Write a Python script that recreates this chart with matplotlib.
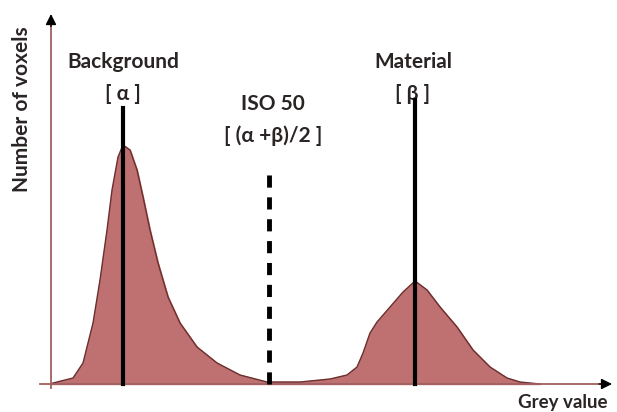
import matplotlib.pyplot as plt

# histogram outline (grey value, number of voxels)
grey = [0, 1, 11, 16, 21, 24.5, 28, 30.5, 33.5, 36, 39.5, 43, 46, 49.5,
        53.5, 58.5, 64.5, 73, 83, 94.5, 108, 124.5, 139.5, 148, 153, 156,
        159.5, 163, 169.5, 176, 182, 188, 194.5, 203, 211, 219.5, 228,
        234.5, 244.5]
voxels = [0, 4, 24, 84, 244, 416, 616, 776, 908, 956, 936, 856, 748, 616,
          484, 348, 244, 148, 84, 36, 8, 8, 20, 36, 68, 124,
          204, 248, 308, 368, 412, 376, 308, 228, 136, 68, 24,
          8, 0]

alpha = 36
beta = 182
iso50 = (alpha + beta) / 2

fig = plt.figure(figsize=(6.17, 4.12), dpi=100)
ax = fig.add_axes([0, 0, 1, 1])
ax.set_xlim(-25.5, 283)
ax.set_ylim(-112, 1536)
ax.axis("off")

ax.fill_between(grey, voxels, color="#bf7070", zorder=2)
ax.plot(grey, voxels, color="#6b2f2f", lw=1.0, zorder=3)

# axes: brownish lines with black arrow heads
ax.plot([-5.5, 276], [0, 0], color="#a06060", lw=1.3, zorder=4)
ax.plot([0, 0], [-16, 1440], color="#a06060", lw=1.3, zorder=4)
ax.annotate("", xy=(280.5, 0), xytext=(274, 0),
            arrowprops=dict(arrowstyle="-|>", color="black", lw=1,
                            mutation_scale=16, shrinkA=0, shrinkB=0), zorder=5)
ax.annotate("", xy=(0, 1480), xytext=(0, 1430),
            arrowprops=dict(arrowstyle="-|>", color="black", lw=1,
                            mutation_scale=16, shrinkA=0, shrinkB=0), zorder=5)

ax.plot([alpha, alpha], [0, 1104], color="black", lw=3, zorder=5)
ax.plot([beta, beta], [0, 1136], color="black", lw=3, zorder=5)
ax.plot([iso50, iso50], [0, 856], color="black", lw=3.5, ls=(0, (2.5, 2)), zorder=5)

font = dict(family="Lato", fontweight="bold", color="#2a2424", fontsize=15)
ax.text(alpha, 1290, "Background", ha="center", va="center", **font)
ax.text(alpha, 1160, "[ α ]", ha="center", va="center", **font)
ax.text(iso50 + 2, 1120, "ISO 50", ha="center", va="center", **font)
ax.text(iso50 + 2, 995, "[ (α +β)/2 ]", ha="center", va="center", **font)
ax.text(beta - 1, 1290, "Material", ha="center", va="center", **font)
ax.text(beta - 1, 1160, "[ β ]", ha="center", va="center", **font)

ax.text(-14.5, 1100, "Number of voxels", rotation=90, ha="center", va="center", **font)
font["fontsize"] = 13.5
ax.text(278, -74, "Grey value", ha="right", va="center", **font)

fig.savefig("out.png", dpi=100)
